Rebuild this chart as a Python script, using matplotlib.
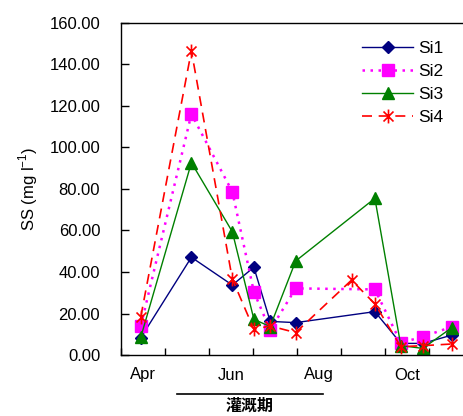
import matplotlib
matplotlib.use("Agg")
import matplotlib.pyplot as plt
from matplotlib.path import Path
import matplotlib.lines as mlines
import matplotlib.transforms as mtrans

plt.rcParams['font.family'] = ['Liberation Sans', 'DejaVu Sans']
plt.rcParams['mathtext.fontset'] = 'custom'
plt.rcParams['mathtext.rm'] = 'Liberation Sans'

# ---- data (x in months since 1 April) ----
months_x = [0.45, 1.6, 2.53, 3.02, 3.39, 3.97, 5.77, 6.36, 6.86, 7.52]
si4_x = [0.45, 1.6, 2.53, 3.02, 3.39, 3.97, 5.24, 5.77, 6.36, 6.86, 7.52]
si1 = [8.3, 47.1, 33.7, 42.3, 16.2, 15.6, 20.9, 5.6, 5.6, 9.6]
si2 = [14.0, 116.1, 78.7, 30.4, 12.0, 32.1, 31.6, 5.9, 8.8, 13.6]
si3 = [8.6, 92.7, 59.4, 17.2, 13.7, 45.3, 75.5, 4.5, 3.2, 13.2]
si4 = [18.5, 146.6, 36.6, 12.4, 14.0, 10.8, 36.1, 24.6, 4.0, 4.5, 5.3]
tick_label_pos = [0.5, 2.5, 4.5, 6.5]
tick_labels = ['Apr', 'Jun', 'Aug', 'Oct']
month_bounds = list(range(0, 9))
yticks = [0, 20, 40, 60, 80, 100, 120, 140, 160]
period_label = '灌溉期'
period_range = (1.27, 4.59)

fig = plt.figure(figsize=(4.64, 4.16), dpi=100)
W, H = 464, 416
left, right, top, bottom = 121, 473, 23, 355
ax = fig.add_axes([left / W, (H - bottom) / H, (right - left) / W, (bottom - top) / H])

star = Path([(0, -1), (0, 1), (-0.72, -0.72), (0.72, 0.72), (-0.72, 0.72), (0.72, -0.72)],
            [Path.MOVETO, Path.LINETO, Path.MOVETO, Path.LINETO, Path.MOVETO, Path.LINETO])

ax.plot(months_x, si1, color='#000080', lw=1.0, marker='D', ms=6.5, mfc='#000080', mec='#000080', label='Si1')
ax.plot(months_x, si2, color='#FF00FF', lw=1.8, ls=(0, (1, 2.2)), marker='s', ms=8, mfc='#FF00FF', mec='#FF00FF', label='Si2')
ax.plot(months_x, si3, color='#008000', lw=1.0, marker='^', ms=8.5, mfc='#008000', mec='#008000', label='Si3')
ax.plot(si4_x, si4, color='#FF0000', lw=1.2, ls=(0, (6, 4)), marker=star, ms=10, mfc='none', mec='#FF0000', mew=1.2, label='Si4')

ax.set_xlim(0, 8)
ax.set_ylim(0, 160)
ax.set_yticks(yticks)
ax.set_yticklabels([f'{v:.2f}' for v in yticks], fontsize=12)
ax.set_xticks(month_bounds)
ax.set_xticklabels([])
ax.set_xticks(tick_label_pos, minor=True)
ax.set_xticklabels(tick_labels, minor=True, fontsize=12)
ax.tick_params(axis='x', which='major', direction='in', length=5, width=1)
ax.tick_params(axis='x', which='minor', length=0, pad=9)
ax.tick_params(axis='y', direction='in', length=6, width=1, pad=15)
ax.spines['right'].set_visible(False)
for s in ['left', 'top', 'bottom']:
    ax.spines[s].set_linewidth(1.0)

ax.set_ylabel('SS (mg l$^{-1}$)', fontsize=12)
ax.yaxis.set_label_coords(-0.23, 0.5)

leg = ax.legend(loc='upper left', bbox_to_anchor=((362 - left) / (right - left), 1 - (41 - top) / (bottom - top)),
                frameon=False, fontsize=12.5, handlelength=2.95, handletextpad=0.3, labelspacing=0.45,
                borderaxespad=0, borderpad=0)

# irrigation period bar and label
trans = mtrans.blended_transform_factory(ax.transData, fig.transFigure)
fig.add_artist(mlines.Line2D(period_range, [(H - 394) / H] * 2, transform=trans, color='black', lw=1.2))
fig.text(sum(period_range) / 2, (H - 398) / H, period_label, transform=trans, ha='center', va='top',
         fontsize=11.5, fontweight='bold', family=['Noto Sans CJK SC', 'DejaVu Sans'])

fig.savefig('out.png', dpi=100)
